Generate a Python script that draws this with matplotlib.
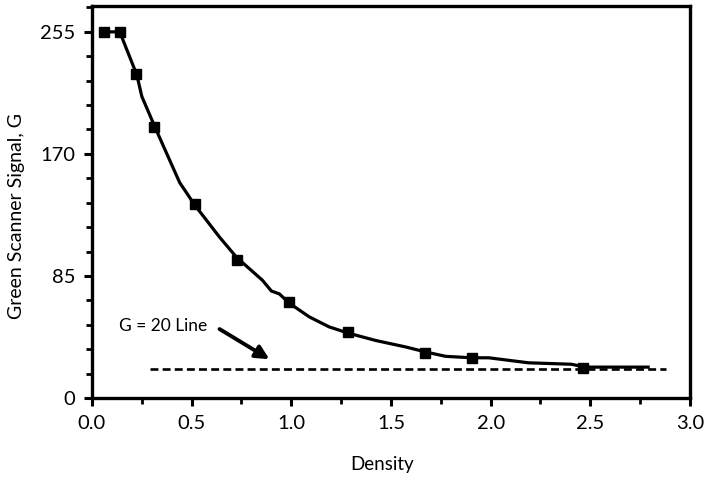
import matplotlib
matplotlib.use("Agg")
import matplotlib.pyplot as plt
from matplotlib.ticker import MultipleLocator

# Messpunkte (Dichte vs. Grün-Signal)
density_pts = [0.06, 0.14, 0.22, 0.31, 0.515, 0.725, 0.99, 1.285, 1.67, 1.905, 2.465]
signal_pts = [255, 255, 226, 189, 135, 96, 67, 46, 31, 28, 21]

# Kurvenverlauf
curve_x = [0.06, 0.14, 0.155, 0.225, 0.25, 0.315, 0.35, 0.44, 0.515, 0.64, 0.725,
           0.855, 0.90, 0.94, 0.99, 1.09, 1.19, 1.29, 1.425, 1.575, 1.675, 1.775,
           1.905, 1.99, 2.19, 2.405, 2.475, 2.79]
curve_y = [255, 255, 249.5, 225, 210, 189, 178, 150, 134.5, 112, 98,
           82, 74.5, 72.5, 66, 56.5, 49.5, 45, 40, 35.5, 32, 29,
           28, 28, 24.5, 23.5, 21.5, 21.5]

# G = 20 Linie
g20_x = [0.29, 2.88]
g20_y = [20, 20]

plt.rcParams['font.family'] = ['Lato', 'DejaVu Sans']

fig = plt.figure(figsize=(7.06, 4.78), dpi=100)
ax = fig.add_axes([0.1303, 0.1674, 0.847, 0.820])

ax.plot(curve_x, curve_y, color='black', lw=2.3, solid_joinstyle='round')
ax.plot(density_pts, signal_pts, 's', color='black', ms=6.5)
ax.plot(g20_x, g20_y, color='black', lw=1.9, dashes=(3.0, 1.6))

# Beschriftung mit Pfeil
ax.text(0.135, 50, 'G = 20 Line', fontsize=12.5, va='center', ha='left')
ax.annotate('', xy=(0.89, 27), xytext=(0.64, 48),
            arrowprops=dict(arrowstyle='-|>', color='black', lw=2.8,
                            mutation_scale=20, shrinkA=0, shrinkB=0))

ax.set_xlim(0, 3.0)
ax.set_ylim(0, 273)
ax.xaxis.set_major_locator(MultipleLocator(0.5))
ax.xaxis.set_minor_locator(MultipleLocator(0.25))
ax.set_yticks([0, 85, 170, 255])
ax.yaxis.set_minor_locator(MultipleLocator(17))
ax.xaxis.set_major_formatter(plt.FuncFormatter(lambda v, p: f'{v:.1f}'))

for s in ax.spines.values():
    s.set_linewidth(2.4)
ax.tick_params(which='major', direction='out', length=6, width=2.2,
               labelsize=14.5, pad=6)
ax.tick_params(which='minor', direction='out', length=4, width=2.0)

ax.set_xlabel('Density', fontsize=13.5)
ax.set_ylabel('Green Scanner Signal, G', fontsize=14)
ax.xaxis.set_label_coords(0.485, -0.148)
ax.yaxis.set_label_coords(-0.112, 0.464)

fig.savefig('out.png', dpi=100)
plt.close(fig)
